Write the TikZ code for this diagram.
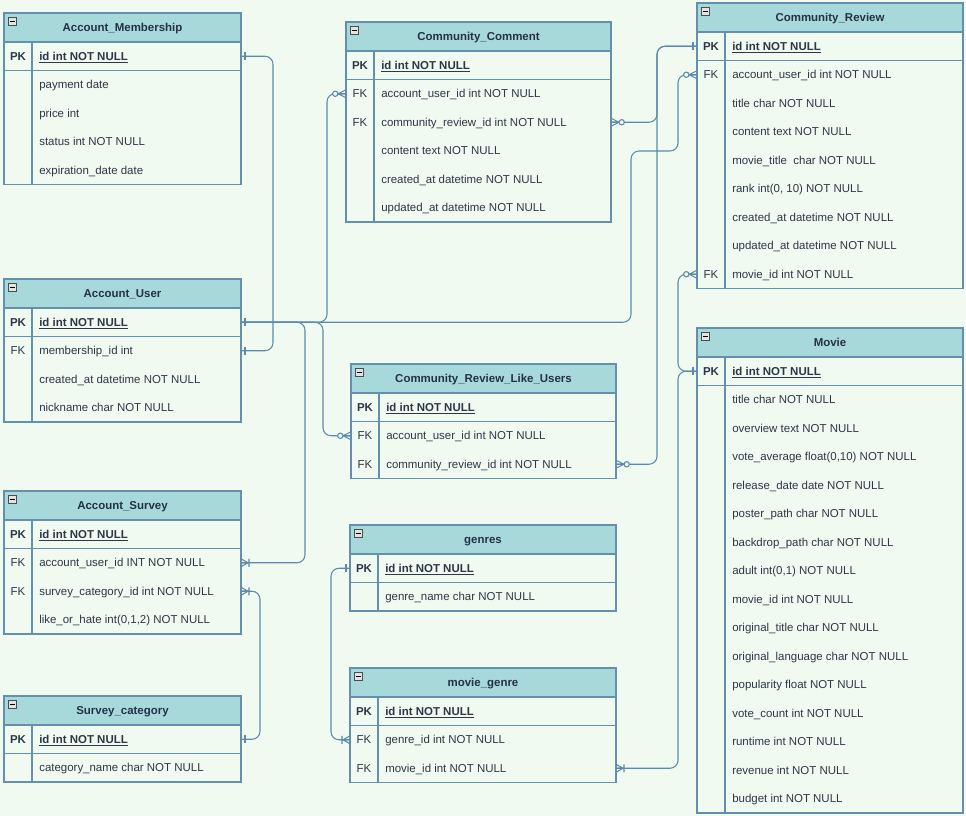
\documentclass[tikz,border=0pt]{standalone}
\usepackage{fontspec}
\setmainfont{Liberation Sans}
\usetikzlibrary{calc}
\definecolor{bg}{RGB}{241,250,240}
\definecolor{headfill}{RGB}{168,217,218}
\definecolor{tableline}{RGB}{100,144,174}
\definecolor{linkcol}{RGB}{92,138,172}
\definecolor{titletext}{RGB}{36,50,70}
\definecolor{fieldtext}{RGB}{44,56,72}
\newcommand{\erfont}{\fontsize{8.6}{10}\selectfont}
\tikzset{
  ertitle/.style={draw=tableline, fill=headfill, line width=0.9pt, anchor=north west,
    minimum height=29*0.75pt, inner sep=0pt, outer sep=0pt, text height=6.2pt, text depth=0pt,
    font=\erfont\bfseries, text=titletext},
  errow/.style={anchor=north west, minimum height=28.5*0.75pt, inner sep=0pt, outer sep=0pt},
  erkey/.style={inner sep=0pt, text height=6.2pt, text depth=0pt, font=\erfont, text=fieldtext},
  erfield/.style={anchor=west, inner sep=0pt, text height=6.2pt, text depth=0pt, font=\erfont, text=fieldtext},
  erbox/.style={draw=tableline, line width=0.9pt},
  link/.style={draw=linkcol, line width=0.8pt, rounded corners=6pt},
  ermark/.style={draw=linkcol, line width=0.8pt},
  erone/.pic={\draw[ermark] (4,-4) -- (4,4);},
  eronemany/.pic={\draw[ermark] (0,-4) -- (7,0) -- (0,4) (0,0) -- (7,0) (8,-4) -- (8,4);},
  erzeromany/.pic={\draw[ermark] (0,-4) -- (8,0) -- (0,4) (0,0) -- (8,0);
    \draw[ermark, fill=bg] (10.7,0) circle[radius=2pt];},
}
% name, left, top, width, title, primary key, other fields
\newcommand{\ertable}[7]{%
  \node[ertitle, minimum width=#4*0.75pt] (#1) at (#2,#3) {#5};
  \draw[draw=gray!60!black, fill=gray!22, line width=0.5pt] ($(#1.north west)+(4,4)$) rectangle +(8,8);
  \draw[line width=0.6pt] ($(#1.north west)+(5.5,8)$) -- +(5,0);
  \node[errow, minimum width=#4*0.75pt] (#1-0) at (#2,{#3+29}) {};
  \node[erkey, font=\erfont\bfseries] (#1-0-k) at ($(#1-0.west)+(14,0)$) {PK};
  \node[erfield, font=\erfont\bfseries] (#1-0-t) at ($(#1-0.west)+(35,0)$) {\underline{#6}};
  \foreach \k/\f [count=\i] in {#7} {
    \node[errow, minimum width=#4*0.75pt] (#1-\i) at (#2,{#3+29+28.5*\i}) {};
    \node[erkey] (#1-\i-k) at ($(#1-\i.west)+(14,0)$) {\k};
    \node[erfield] (#1-\i-t) at ($(#1-\i.west)+(35,0)$) {\f};
    \xdef\erlast{\i}
  }
  \draw[erbox] (#1.north west) rectangle (#1-\erlast.south east);
  \draw[erbox] (#1-0.south west) -- (#1-0.south east);
  \draw[erbox] ($(#1.south west)+(28,0)$) -- ($(#1-\erlast.south west)+(28,0)$);
}

\begin{document}
\begin{tikzpicture}[x=0.75pt, y=-0.75pt]
\fill[bg] (0,0) rectangle (966,816);
\useasboundingbox (0,0) rectangle (966,816);

\ertable{am}{4}{13}{237}{Account\_Membership}{id int NOT NULL}{{}/payment date, {}/price int, {}/status int NOT NULL, {}/expiration\_date date}
\ertable{cc}{346}{22}{265}{Community\_Comment}{id int NOT NULL}{FK/account\_user\_id int NOT NULL, FK/community\_review\_id int NOT NULL, {}/content text NOT NULL, {}/created\_at datetime NOT NULL, {}/updated\_at datetime NOT NULL}
\ertable{cr}{697}{3}{266}{Community\_Review}{id int NOT NULL}{FK/account\_user\_id int NOT NULL, {}/title char NOT NULL, {}/content text NOT NULL, {}/movie\_title\ \ char NOT NULL, {}/{rank int(0, 10) NOT NULL}, {}/created\_at datetime NOT NULL, {}/updated\_at datetime NOT NULL, FK/movie\_id int NOT NULL}
\ertable{au}{4}{279}{237}{Account\_User}{id int NOT NULL}{FK/membership\_id int, {}/created\_at datetime NOT NULL, {}/nickname char NOT NULL}
\ertable{crlu}{351}{364}{265}{Community\_Review\_Like\_Users}{id int NOT NULL}{FK/account\_user\_id int NOT NULL, FK/community\_review\_id int NOT NULL}
\ertable{mv}{697}{328}{266}{Movie}{id int NOT NULL}{{}/title char NOT NULL, {}/overview text NOT NULL, {}/{vote\_average float(0,10) NOT NULL}, {}/release\_date date NOT NULL, {}/poster\_path char NOT NULL, {}/backdrop\_path char NOT NULL, {}/{adult int(0,1) NOT NULL}, {}/movie\_id int NOT NULL, {}/original\_title char NOT NULL, {}/original\_language char NOT NULL, {}/popularity float NOT NULL, {}/vote\_count int NOT NULL, {}/runtime int NOT NULL, {}/revenue int NOT NULL, {}/budget int NOT NULL}
\ertable{as}{4}{491}{237}{Account\_Survey}{id int NOT NULL}{FK/account\_user\_id INT NOT NULL, FK/survey\_category\_id int NOT NULL, {}/{like\_or\_hate int(0,1,2) NOT NULL}}
\ertable{sc}{4}{696}{237}{Survey\_category}{id int NOT NULL}{{}/category\_name char NOT NULL}
\ertable{gn}{350}{525}{266}{genres}{id int NOT NULL}{{}/genre\_name char NOT NULL}
\ertable{mg}{350}{668}{266}{movie\_genre}{id int NOT NULL}{FK/genre\_id int NOT NULL, FK/movie\_id int NOT NULL}

\draw[link] (am-0.east) -| ($(au-1.east)+(32,0)$) -- (au-1.east);
\draw[link] (au-0.east) -| (631,151) -| ($(cr-1.west)+(-19,0)$) -- (cr-1.west);
\draw[link] (au-0.east) -| ($(cc-1.west)+(-19,0)$) -- (cc-1.west);
\draw[link] (au-0.east) -| ($(crlu-1.west)+(-28,0)$) -- (crlu-1.west);
\draw[link] (au-0.east) -| ($(as-1.east)+(64,0)$) -- (as-1.east);
\draw[link] (as-2.east) -| ($(sc-0.east)+(19,0)$) -- (sc-0.east);
\draw[link] (cc-2.east) -| ($(cr-0.west)+(-40,0)$) -- (cr-0.west);
\draw[link] (crlu-2.east) -| ($(cr-0.west)+(-40,0)$) -- (cr-0.west);
\draw[link] (mv-0.west) -| ($(cr-8.west)+(-19,0)$) -- (cr-8.west);
\draw[link] (mv-0.west) -| ($(mg-2.east)+(62,0)$) -- (mg-2.east);
\draw[link] (gn-0.west) -| ($(mg-1.west)+(-19,0)$) -- (mg-1.west);

\pic at (am-0.east) {erone};
\pic at (au-1.east) {erone};
\pic at (au-0.east) {erone};
\pic at (sc-0.east) {erone};
\pic[rotate=180] at (cr-0.west) {erone};
\pic[rotate=180] at (mv-0.west) {erone};
\pic[rotate=180] at (gn-0.west) {erone};
\pic[rotate=180] at (cc-1.west) {erzeromany};
\pic[rotate=180] at (cr-1.west) {erzeromany};
\pic[rotate=180] at (crlu-1.west) {erzeromany};
\pic[rotate=180] at (cr-8.west) {erzeromany};
\pic at (cc-2.east) {erzeromany};
\pic at (crlu-2.east) {erzeromany};
\pic at (as-1.east) {eronemany};
\pic at (as-2.east) {eronemany};
\pic at (mg-2.east) {eronemany};
\pic[rotate=180] at (mg-1.west) {eronemany};
\end{tikzpicture}
\end{document}
